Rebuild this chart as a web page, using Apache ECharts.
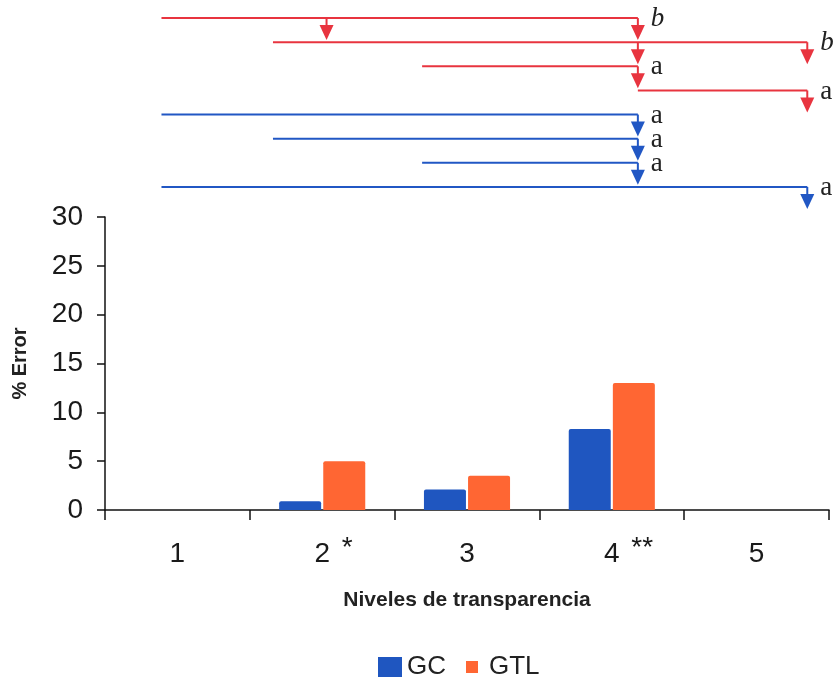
<!DOCTYPE html>
<html>
<head>
<meta charset="utf-8">
<script src="https://cdn.jsdelivr.net/npm/echarts@6/dist/echarts.min.js"></script>
<style>html,body{margin:0;padding:0;background:#fff}#c{width:834px;height:685px}</style>
</head>
<body>
<div id="c"></div>
<script>
// ---- data ----
const categories = ['1', '2', '3', '4', '5'];
const categoryMarks = ['', '*', '', '**', ''];
const gcValues = [0, 0.9, 2.1, 8.3, 0];
const gtlValues = [0, 5.0, 3.5, 13.0, 0];
const yTicks = [0, 5, 10, 15, 20, 25, 30];

// significance brackets (x in category units, level = row from top)
const bracketStart = [-0.11, 0.66, 1.69, 3.18, -0.11, 0.66, 1.69, -0.11];
const bracketEnd   = [3.18, 4.35, 3.18, 4.35, 3.18, 3.18, 3.18, 4.35];
const bracketLevel = [0, 1, 2, 3, 4, 5, 6, 7];
const bracketArrows = [[1.03, 3.18], [3.18, 4.35], [3.18], [4.35], [3.18], [3.18], [3.18], [4.35]];
const bracketLabel = ['b', 'b', 'a', 'a', 'a', 'a', 'a', 'a'];
const bracketItalic = [true, true, false, false, false, false, false, false];
const bracketGroup = ['GTL', 'GTL', 'GTL', 'GTL', 'GC', 'GC', 'GC', 'GC'];

const FONT = '"Liberation Sans", Arial, sans-serif';
const SERIF = '"Liberation Serif", "Times New Roman", serif';
const colorGC = '#1F56C0';
const colorGTL = '#FF6633';
const lineColor = { GTL: '#E8343F', GC: '#2157C4' };

const chart = echarts.init(document.getElementById('c'));

function renderBracket(params, api) {
  const i = params.dataIndex;
  const p1 = api.coord([api.value(0), api.value(2)]);
  const p2 = api.coord([api.value(1), api.value(2)]);
  const y = p1[1];
  const col = lineColor[bracketGroup[i]];
  const children = [{
    type: 'line',
    shape: { x1: p1[0], y1: y, x2: p2[0], y2: y },
    style: { stroke: col, lineWidth: 2 }
  }];
  bracketArrows[i].forEach(function (ax) {
    const x = api.coord([ax, api.value(2)])[0];
    children.push({
      type: 'line',
      shape: { x1: x, y1: y, x2: x, y2: y + 8 },
      style: { stroke: col, lineWidth: 2 }
    });
    children.push({
      type: 'polygon',
      shape: { points: [[x - 7, y + 7], [x + 7, y + 7], [x, y + 22]] },
      style: { fill: col }
    });
  });
  children.push({
    type: 'text',
    style: {
      text: bracketLabel[i],
      x: p2[0] + 13,
      y: y + 1,
      font: (bracketItalic[i] ? 'italic ' : '') + '27px ' + SERIF,
      fill: '#222',
      align: 'left',
      verticalAlign: 'middle'
    }
  });
  return { type: 'group', children: children };
}

const option = {
  animation: false,
  backgroundColor: '#fff',
  grid: [
    { left: 105, right: 5, top: 217, bottom: 175 },
    { left: 105, right: 5, top: 0, height: 205 }
  ],
  legend: [
    {
      data: ['GC'], left: 378, top: 653, padding: 0, itemWidth: 24, itemHeight: 20,
      icon: 'rect',
      textStyle: { fontSize: 26, color: '#222', fontFamily: FONT, lineHeight: 28 }
    },
    {
      data: ['GTL'], left: 466, top: 653, padding: 0, itemWidth: 24, itemHeight: 12,
      icon: 'path://M0,0h12v12h-12z',
      textStyle: { fontSize: 26, color: '#222', fontFamily: FONT, lineHeight: 28 }
    }
  ],
  xAxis: [
    {
      type: 'category', gridIndex: 0, data: categories,
      axisLine: { lineStyle: { color: '#111', width: 1.5 } },
      axisTick: { show: true, length: 10, lineStyle: { color: '#111', width: 1.5 } },
      axisLabel: {
        margin: 24,
        formatter: function (v, idx) {
          const m = categoryMarks[idx];
          if (!m) return '{n|' + v + '}';
          return '{h| ' + m + '}{n|' + v + '}{s| ' + m + '}';
        },
        rich: {
          n: { fontSize: 28, fontFamily: FONT, color: '#1a1a1a', lineHeight: 34, verticalAlign: 'bottom' },
          s: { fontSize: 28, fontFamily: FONT, color: '#1a1a1a', lineHeight: 26, verticalAlign: 'top', padding: [0, 0, 0, 4] },
          h: { fontSize: 28, fontFamily: FONT, color: 'transparent', lineHeight: 26, verticalAlign: 'top', padding: [0, 4, 0, 0] }
        }
      },
      name: 'Niveles de transparencia',
      nameLocation: 'middle',
      nameGap: 80,
      nameTextStyle: { fontSize: 21, fontWeight: 'bold', color: '#222', fontFamily: FONT }
    },
    { type: 'value', gridIndex: 1, min: -0.5, max: 4.5, show: false }
  ],
  yAxis: [
    {
      type: 'value', gridIndex: 0, min: yTicks[0], max: yTicks[yTicks.length - 1], interval: 5,
      axisLine: { show: true, lineStyle: { color: '#111', width: 1.5 } },
      axisTick: { show: true, length: 8, lineStyle: { color: '#111', width: 1.5 } },
      splitLine: { show: false },
      axisLabel: { fontSize: 28, color: '#1a1a1a', fontFamily: FONT, margin: 22 },
      name: '% Error',
      nameLocation: 'middle',
      nameGap: 75,
      nameRotate: 90,
      nameTextStyle: { fontSize: 20, fontWeight: 'bold', color: '#222', fontFamily: FONT }
    },
    { type: 'value', gridIndex: 1, min: -0.75, max: 7.75, inverse: true, show: false }
  ],
  series: [
    {
      name: 'GC', type: 'bar', xAxisIndex: 0, yAxisIndex: 0, data: gcValues,
      barWidth: 42, barGap: '5%',
      itemStyle: { color: colorGC, borderRadius: [2, 2, 0, 0] }
    },
    {
      name: 'GTL', type: 'bar', xAxisIndex: 0, yAxisIndex: 0, data: gtlValues,
      barWidth: 42, barGap: '5%',
      itemStyle: { color: colorGTL, borderRadius: [2, 2, 0, 0] }
    },
    {
      type: 'custom', xAxisIndex: 1, yAxisIndex: 1, clip: false, silent: true,
      data: bracketLevel.map(function (l, i) { return [bracketStart[i], bracketEnd[i], l]; }),
      encode: { x: [0, 1], y: 2 },
      renderItem: renderBracket
    }
  ]
};
chart.setOption(option);
</script>
</body>
</html>
